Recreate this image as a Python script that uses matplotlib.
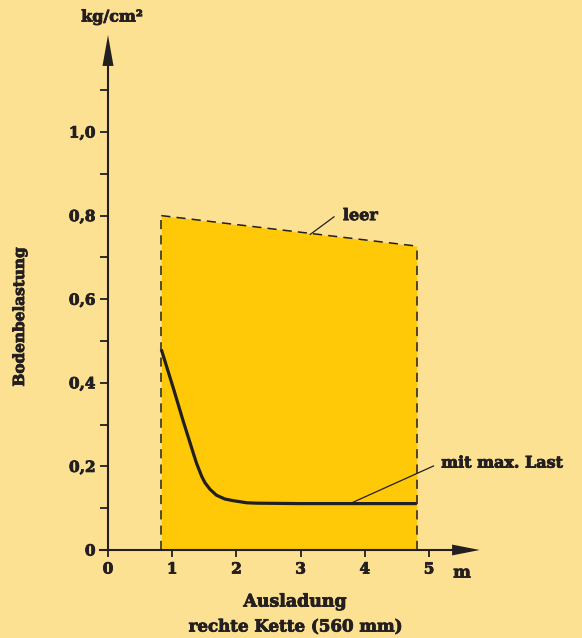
import matplotlib
matplotlib.use("Agg")
import matplotlib.pyplot as plt
import matplotlib.patheffects as pe
from matplotlib.patches import Polygon
from matplotlib.ticker import FixedLocator, FuncFormatter

# data
empty_x = [0.83, 4.81]           # "leer" - empty crane
empty_y = [0.80, 0.727]
load_x = [0.83, 1.02, 1.17, 1.33, 1.38, 1.46, 1.51, 1.59, 1.69, 1.82, 1.95, 2.16, 2.32, 3.0, 4.0, 4.81]
load_y = [0.480, 0.386, 0.309, 0.231, 0.207, 0.176, 0.161, 0.145, 0.131, 0.122, 0.118, 0.113, 0.112,
          0.111, 0.111, 0.111]
x_ticks = [0, 1, 2, 3, 4, 5]
y_ticks = [0.0, 0.1, 0.2, 0.3, 0.4, 0.5, 0.6, 0.7, 0.8, 0.9, 1.0, 1.1]

bg = "#fde192"
fill = "#ffc907"
ink = "#231f20"
plt.rcParams['font.family'] = ['DejaVu Serif']
plt.rcParams['font.weight'] = 'bold'
heavy = [pe.withStroke(linewidth=0.6, foreground=ink)]

fig = plt.figure(figsize=(5.82, 6.38), dpi=100, facecolor=bg)
ax = fig.add_axes([0, 0, 1, 1])
ax.set_facecolor(bg)
ax.set_xlim(-108 / 64.2, (582 - 108) / 64.2)
ax.set_ylim(-(638 - 550) / 418, 550 / 418)

# shaded working area
ax.fill_between(empty_x, 0, empty_y, color=fill, lw=0, zorder=1)
dash = (0, (6, 4))
ax.plot(empty_x, empty_y, color=ink, lw=1.1, ls=dash, zorder=2)
ax.plot([empty_x[0]] * 2, [0, empty_y[0]], color=ink, lw=1.1, ls=dash, zorder=2)
ax.plot([empty_x[-1]] * 2, [0, empty_y[-1]], color=ink, lw=1.1, ls=dash, zorder=2)

# loaded curve
ax.plot(load_x, load_y, color=ink, lw=2.3, solid_capstyle='butt',
        solid_joinstyle='round', zorder=3)

# axes through origin
for s in ['top', 'right']:
    ax.spines[s].set_visible(False)
ax.spines['left'].set_position(('data', 0))
ax.spines['bottom'].set_position(('data', 0))
ax.spines['left'].set_bounds(0, 1.17)
ax.spines['bottom'].set_bounds(-0.13, 5.40)
for s in ['left', 'bottom']:
    ax.spines[s].set_color(ink)
    ax.spines[s].set_linewidth(1.5)
    ax.spines[s].set_zorder(4)

ax.xaxis.set_major_locator(FixedLocator(x_ticks))
ax.yaxis.set_major_locator(FixedLocator(y_ticks))
ax.yaxis.set_major_formatter(FuncFormatter(
    lambda v, p: "" if round(v * 10) % 2 else ("0" if v == 0 else f"{v:.1f}".replace(".", ","))))
ax.tick_params(axis='x', direction='out', length=5, width=1.3, color=ink,
               labelsize=11, labelcolor=ink, pad=4)
ax.tick_params(axis='y', direction='out', length=6, width=1.3, color=ink,
               labelsize=11, labelcolor=ink, pad=3)
for lab in ax.get_xticklabels() + ax.get_yticklabels():
    lab.set_fontweight('bold')
    lab.set_path_effects(heavy)

# arrow heads
ax.add_patch(Polygon([[0, 1.232], [-0.086, 1.158], [0.086, 1.158]], closed=True,
                     color=ink, lw=0, zorder=5))
ax.add_patch(Polygon([[5.79, 0], [5.36, 0.013], [5.36, -0.013]], closed=True,
                     color=ink, lw=0, zorder=5))

# annotations
ax.plot([3.15, 3.52], [0.755, 0.797], color=ink, lw=0.9, zorder=3)
ax.text(3.66, 0.80, "leer", fontsize=11.5, fontweight='bold', color=ink,
        ha='left', va='center', path_effects=heavy)
ax.plot([3.77, 5.07], [0.111, 0.201], color=ink, lw=0.9, zorder=3)
ax.text(5.19, 0.208, "mit max. Last", fontsize=11.5, fontweight='bold', color=ink,
        ha='left', va='center', path_effects=heavy)

# axis titles
fig.text(112 / 582, 1 - 17 / 638, "kg/cm²", fontsize=11.5, fontweight='bold',
         color=ink, ha='center', va='center', path_effects=heavy)
fig.text(462 / 582, 1 - 573 / 638, "m", fontsize=12, fontweight='bold',
         color=ink, ha='center', va='center', path_effects=heavy)
fig.text(20 / 582, 1 - 317 / 638, "Bodenbelastung", fontsize=11, fontweight='bold',
         color=ink, ha='center', va='center', rotation=90, path_effects=heavy)
fig.text(295 / 582, 1 - 602 / 638, "Ausladung", fontsize=12.5, fontweight='bold',
         color=ink, ha='center', va='center', path_effects=heavy)
fig.text(295 / 582, 1 - 627 / 638, "rechte Kette (560 mm)", fontsize=12, fontweight='bold',
         color=ink, ha='center', va='center', path_effects=heavy)

fig.savefig("out.png", dpi=100, facecolor=bg)
